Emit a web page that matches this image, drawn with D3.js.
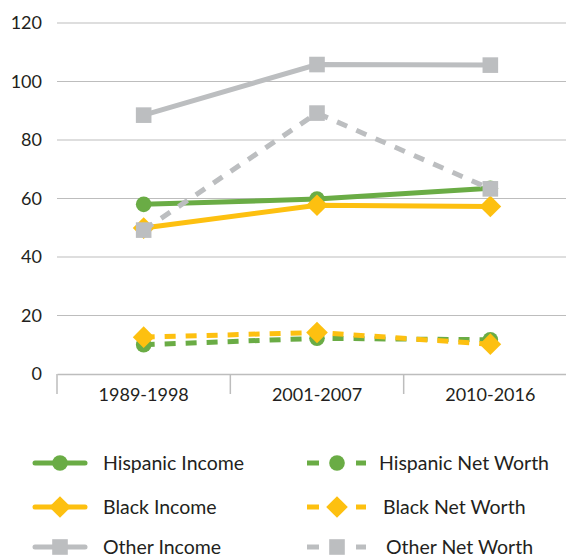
<!DOCTYPE html>
<html><head><meta charset="utf-8">
<script src="https://cdn.jsdelivr.net/npm/d3@7"></script>
<style>body{margin:0;background:#fff;}svg{display:block;font-family:"Lato","Open Sans",sans-serif;}</style>
</head><body><svg id="c" width="566" height="558"></svg>
<script>
const categories = ["1989-1998", "2001-2007", "2010-2016"];
const yTicks = [0, 20, 40, 60, 80, 100, 120];
const hispanicIncome = [58, 59.8, 63.5];
const blackIncome = [49.9, 57.7, 57.3];
const otherIncome = [88.5, 105.8, 105.6];
const hispanicNetWorth = [10, 12.2, 11.7];
const blackNetWorth = [12.6, 14.2, 10.2];
const otherNetWorth = [49.2, 89.2, 63.3];

const series = [
  {name: "Other Income", values: otherIncome, color: "#bcbec0", dash: false, shape: "square"},
  {name: "Hispanic Income", values: hispanicIncome, color: "#6aac45", dash: false, shape: "circle"},
  {name: "Black Income", values: blackIncome, color: "#fdc010", dash: false, shape: "diamond"},
  {name: "Other Net Worth", values: otherNetWorth, color: "#bcbec0", dash: true, shape: "square"},
  {name: "Hispanic Net Worth", values: hispanicNetWorth, color: "#6aac45", dash: true, shape: "circle"},
  {name: "Black Net Worth", values: blackNetWorth, color: "#fdc010", dash: true, shape: "diamond"}
];

const svg = d3.select("#c");
const x = d3.scaleBand().domain(categories).range([57, 577]);
const y = d3.scaleLinear().domain([0, 120]).range([374, 23]);

// grid
svg.append("g").selectAll("line").data(yTicks.filter(d => d > 0)).join("line")
  .attr("x1", 57).attr("x2", 566).attr("y1", d => y(d)).attr("y2", d => y(d))
  .attr("stroke", "#bdbdbd").attr("stroke-width", 1);
svg.append("g").selectAll("text").data(yTicks).join("text")
  .attr("x", 42).attr("y", d => y(d)).attr("dy", "0.36em").attr("text-anchor", "end")
  .attr("font-size", 18).attr("fill", "#231f20").text(d => d);

// x axis
const xAxis = d3.axisBottom(x).tickSizeInner(0).tickSizeOuter(0).tickPadding(14);
const gx = svg.append("g").attr("transform", "translate(0,374)").call(xAxis);
gx.select(".domain").attr("stroke", "#bdbdbd").attr("stroke-width", 1.5);
gx.selectAll("text").attr("font-size", 18).attr("fill", "#231f20").attr("font-family", "Lato, 'Open Sans', sans-serif");
gx.selectAll(".sep").data(categories).join("line").attr("class", "sep")
  .attr("x1", d => x(d)).attr("x2", d => x(d)).attr("y1", 0).attr("y2", 20)
  .attr("stroke", "#bdbdbd").attr("stroke-width", 1.5);

const cx = d => x(d) + x.bandwidth() / 2;
const line = d3.line().x((d, i) => cx(categories[i])).y(d => y(d));

function marker(g, shape, color, px, py, scale) {
  const s = scale || 1;
  if (shape === "circle") g.append("circle").attr("cx", px).attr("cy", py).attr("r", 7.8 * s).attr("fill", color);
  else if (shape === "diamond") g.append("path").attr("d", d3.symbol().type(d3.symbolSquare).size(235 * s * s)()).attr("transform", `translate(${px},${py}) rotate(45)`).attr("fill", color);
  else g.append("rect").attr("x", px - 7.8 * s).attr("y", py - 7.8 * s).attr("width", 15.6 * s).attr("height", 15.6 * s).attr("fill", color);
}

series.forEach(s => {
  const g = svg.append("g");
  g.append("path").attr("d", line(s.values)).attr("fill", "none").attr("stroke", s.color)
    .attr("stroke-width", 5).attr("stroke-dasharray", s.dash ? "11,10" : null);
  s.values.forEach((v, i) => marker(g, s.shape, s.color, cx(categories[i]), y(v)));
});

// legend
const legendItems = [
  {name: "Hispanic Income", color: "#6aac45", dash: false, shape: "circle", col: 0, row: 0},
  {name: "Black Income", color: "#fdc010", dash: false, shape: "diamond", col: 0, row: 1},
  {name: "Other Income", color: "#bcbec0", dash: false, shape: "square", col: 0, row: 2},
  {name: "Hispanic Net Worth", color: "#6aac45", dash: true, shape: "circle", col: 1, row: 0},
  {name: "Black Net Worth", color: "#fdc010", dash: true, shape: "diamond", col: 1, row: 1},
  {name: "Other Net Worth", color: "#bcbec0", dash: true, shape: "square", col: 1, row: 2}
];
const rowY = [463, 507, 547];
const textX = [[103, 103, 103], [379, 383, 386]];
legendItems.forEach(it => {
  const g = svg.append("g");
  const yy = rowY[it.row];
  if (!it.dash) {
    g.append("line").attr("x1", 35).attr("x2", 85).attr("y1", yy).attr("y2", yy)
      .attr("stroke", it.color).attr("stroke-width", 5).attr("stroke-linecap", "round");
    marker(g, it.shape, it.color, 60, yy, 1.0);
  } else {
    g.append("line").attr("x1", 307).attr("x2", 319).attr("y1", yy).attr("y2", yy).attr("stroke", it.color).attr("stroke-width", 5);
    g.append("line").attr("x1", 356).attr("x2", 366).attr("y1", yy).attr("y2", yy).attr("stroke", it.color).attr("stroke-width", 5);
    marker(g, it.shape, it.color, 337, yy, 1.0);
  }
  g.append("text").attr("x", textX[it.col][it.row]).attr("y", yy).attr("dy", "0.36em")
    .attr("font-size", 19.5).attr("fill", "#231f20").text(it.name);
});
</script></body></html>
